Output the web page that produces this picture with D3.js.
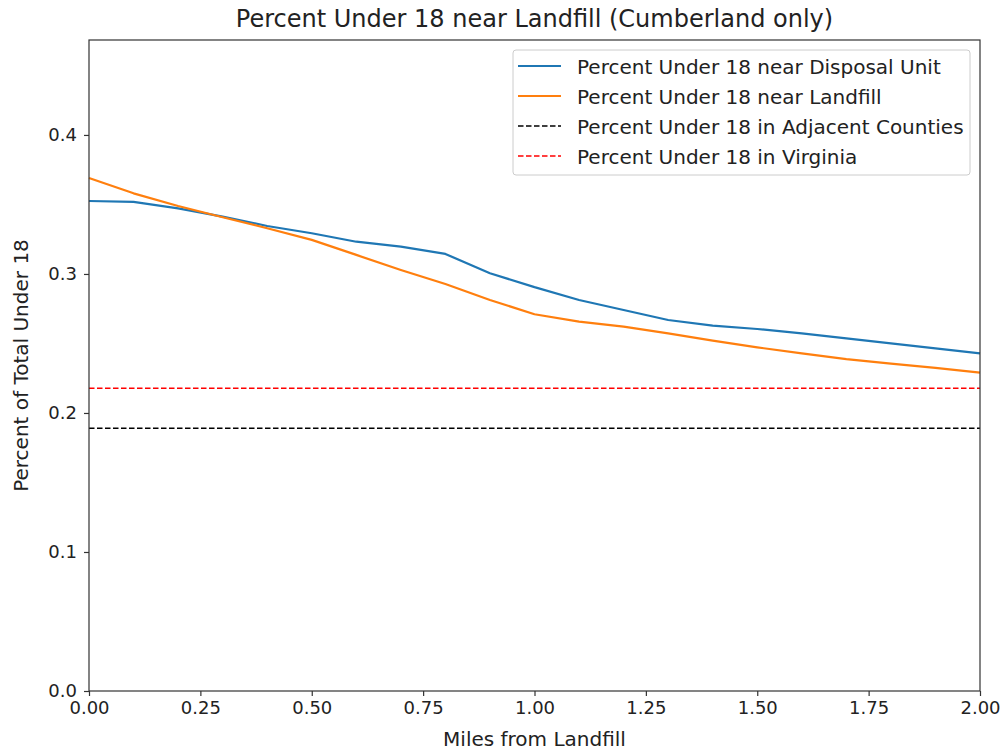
<!DOCTYPE html>
<html>
<head>
<meta charset="utf-8">
<script src="https://cdn.jsdelivr.net/npm/d3@7"></script>
<style>
  body { margin: 0; background: #fff; }
  svg { display: block; font-family: "DejaVu Sans", sans-serif; }
</style>
</head>
<body>
<svg id="chart" width="1005" height="752"></svg>
<script>
const miles = [0.0,0.1,0.2,0.3,0.4,0.5,0.6,0.7,0.8,0.9,1.0,1.1,1.2,1.3,1.4,1.5,1.6,1.7,1.8,1.9,2.0];
const disposalUnit = [0.3525,0.3518,0.3472,0.3412,0.3345,0.3293,0.3232,0.3197,0.3144,0.3005,0.2905,0.2813,0.2741,0.2669,0.2628,0.2604,0.2573,0.2537,0.2501,0.2465,0.2429];
const landfill = [0.369,0.358,0.3489,0.3408,0.3329,0.3245,0.3137,0.3029,0.2928,0.2813,0.2710,0.2657,0.2621,0.2573,0.2520,0.2472,0.2429,0.2388,0.2355,0.2324,0.229];
const adjacentCounties = 0.189;
const virginia = 0.2177;
const xTicks = [0,0.25,0.5,0.75,1.0,1.25,1.5,1.75,2.0];
const yTicks = [0,0.1,0.2,0.3,0.4];
const seriesNames = ["Percent Under 18 near Disposal Unit","Percent Under 18 near Landfill","Percent Under 18 in Adjacent Counties","Percent Under 18 in Virginia"];
const seriesColors = ["#1f77b4","#ff7f0e","#000000","#ff0000"];

const svg = d3.select("#chart");
const L = 89, R = 980, T = 40, B = 691;
const x = d3.scaleLinear().domain([0,2]).range([L,R]);
const y = d3.scaleLinear().domain([0,0.4683]).range([B,T]);

// reference lines
svg.append("line").attr("x1",x(0)).attr("x2",x(2)).attr("y1",y(adjacentCounties)).attr("y2",y(adjacentCounties))
  .attr("stroke",seriesColors[2]).attr("stroke-width",1.5).attr("stroke-dasharray","5.5,2.5");
svg.append("line").attr("x1",x(0)).attr("x2",x(2)).attr("y1",y(virginia)).attr("y2",y(virginia))
  .attr("stroke",seriesColors[3]).attr("stroke-width",1.5).attr("stroke-dasharray","5.5,2.5");

const line = d3.line().x((d,i)=>x(miles[i])).y(d=>y(d));
svg.append("path").datum(disposalUnit).attr("d",line).attr("fill","none").attr("stroke",seriesColors[0]).attr("stroke-width",2.2).attr("stroke-linejoin","round");
svg.append("path").datum(landfill).attr("d",line).attr("fill","none").attr("stroke",seriesColors[1]).attr("stroke-width",2.2).attr("stroke-linejoin","round");

// frame
svg.append("rect").attr("x",L).attr("y",T).attr("width",R-L).attr("height",B-T).attr("fill","none").attr("stroke","#333").attr("stroke-width",1.2);

// axes
const xAxis = svg.append("g").attr("transform",`translate(0,${B})`)
  .call(d3.axisBottom(x).tickValues(xTicks).tickFormat(d3.format(".2f")).tickSize(5).tickPadding(5));
const yAxis = svg.append("g").attr("transform",`translate(${L},0)`)
  .call(d3.axisLeft(y).tickValues(yTicks).tickFormat(d3.format(".1f")).tickSize(5).tickPadding(7));
[xAxis,yAxis].forEach(a=>{
  a.select(".domain").remove();
  a.selectAll("line").attr("stroke","#333").attr("stroke-width",1.2);
  a.selectAll("text").attr("font-size",18).attr("fill","#222").attr("font-family","DejaVu Sans");
});

// title and axis labels
svg.append("text").attr("x",(L+R)/2).attr("y",27).attr("text-anchor","middle").attr("font-size",24).attr("fill","#222").text("Percent Under 18 near Landfill (Cumberland only)");
svg.append("text").attr("x",(L+R)/2).attr("y",746).attr("text-anchor","middle").attr("font-size",20).attr("fill","#222").text("Miles from Landfill");
svg.append("text").attr("transform",`translate(28,${(T+B)/2}) rotate(-90)`).attr("text-anchor","middle").attr("font-size",20).attr("fill","#222").text("Percent of Total Under 18");

// legend
const lg = svg.append("g");
lg.append("rect").attr("x",513).attr("y",50).attr("width",457).attr("height",125).attr("rx",3).attr("fill","#fff").attr("fill-opacity",0.8).attr("stroke","#ccc").attr("stroke-width",1);
const dashes = [null,null,"5.5,2.5","5.5,2.5"];
seriesNames.forEach((n,i)=>{
  const yy = 66 + i*30;
  lg.append("line").attr("x1",518).attr("x2",561).attr("y1",yy).attr("y2",yy).attr("stroke",seriesColors[i])
    .attr("stroke-width",i<2?2.2:1.5).attr("stroke-dasharray",dashes[i]);
  lg.append("text").attr("x",577).attr("y",yy+8).attr("font-size",20).attr("fill","#222").text(n);
});
</script>
</body>
</html>
